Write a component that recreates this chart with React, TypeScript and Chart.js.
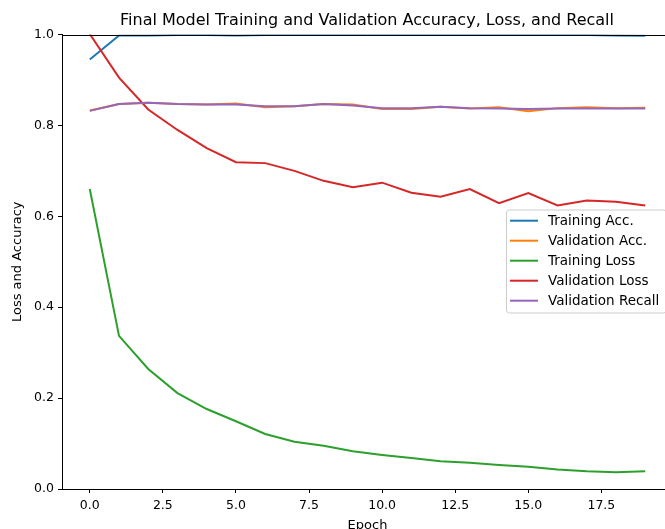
import React, { useEffect, useRef } from "react";
import { Chart, registerables } from "chart.js";

Chart.register(...registerables);

const titleText = "Final Model Training and Validation Accuracy, Loss, and Recall";
const xAxisLabel = "Epoch";
const yAxisLabel = "Loss and Accuracy";

const epochs = [0, 1, 2, 3, 4, 5, 6, 7, 8, 9, 10, 11, 12, 13, 14, 15, 16, 17, 18, 19];
const trainAcc = [0.945, 0.998, 0.998, 0.999, 0.999, 0.998, 0.999, 1.0, 0.999, 0.999, 0.999, 0.999, 1.0, 0.999, 1.0, 0.999, 0.999, 0.999, 0.998, 0.997];
const valAcc = [0.833, 0.847, 0.85, 0.847, 0.846, 0.848, 0.84, 0.842, 0.847, 0.846, 0.836, 0.836, 0.841, 0.837, 0.84, 0.831, 0.838, 0.84, 0.838, 0.839];
const trainLoss = [0.66, 0.337, 0.264, 0.211, 0.176, 0.149, 0.121, 0.104, 0.095, 0.083, 0.075, 0.068, 0.061, 0.058, 0.053, 0.049, 0.043, 0.039, 0.037, 0.039];
const valLoss = [1.001, 0.905, 0.835, 0.79, 0.75, 0.719, 0.717, 0.7, 0.678, 0.664, 0.674, 0.652, 0.643, 0.66, 0.629, 0.651, 0.624, 0.635, 0.632, 0.624];
const valRecall = [0.832, 0.847, 0.85, 0.847, 0.846, 0.846, 0.842, 0.842, 0.847, 0.844, 0.838, 0.838, 0.841, 0.838, 0.837, 0.836, 0.837, 0.837, 0.837, 0.837];

const seriesNames = ["Training Acc.", "Validation Acc.", "Training Loss", "Validation Loss", "Validation Recall"];
const seriesColors = ["#1f77b4", "#ff7f0e", "#2ca02c", "#d62728", "#9467bd"];
const seriesValues = [trainAcc, valAcc, trainLoss, valLoss, valRecall];

const xTickValues = [0, 2.5, 5, 7.5, 10, 12.5, 15, 17.5];
const yTickValues = [0, 0.2, 0.4, 0.6, 0.8, 1.0];

const FONT = "'DejaVu Sans', sans-serif";

const decorPlugin = {
  id: "decor",
  afterDraw(chart: any) {
    const ctx = chart.ctx;
    const a = chart.chartArea;
    ctx.save();
    // top spine
    ctx.strokeStyle = "#000";
    ctx.lineWidth = 1;
    ctx.beginPath();
    ctx.moveTo(a.left, Math.round(a.top) + 0.5);
    ctx.lineTo(a.right, Math.round(a.top) + 0.5);
    ctx.stroke();

    // title
    ctx.fillStyle = "#000";
    ctx.font = `16px ${FONT}`;
    ctx.textAlign = "center";
    ctx.textBaseline = "alphabetic";
    ctx.fillText(titleText, (a.left + a.right) / 2 - 0.5, 25);

    // x label
    ctx.font = `13px ${FONT}`;
    ctx.fillText(xAxisLabel, (a.left + a.right) / 2, 529);

    // y label
    ctx.save();
    ctx.translate(18, (a.top + a.bottom) / 2);
    ctx.rotate(-Math.PI / 2);
    ctx.textBaseline = "middle";
    ctx.fillText(yAxisLabel, 0, 0);
    ctx.restore();

    // legend
    const lx = 506.5, ly = 210, lw = 160, lh = 103, r = 3;
    ctx.beginPath();
    ctx.moveTo(lx + r, ly);
    ctx.lineTo(lx + lw - r, ly);
    ctx.arcTo(lx + lw, ly, lx + lw, ly + r, r);
    ctx.lineTo(lx + lw, ly + lh - r);
    ctx.arcTo(lx + lw, ly + lh, lx + lw - r, ly + lh, r);
    ctx.lineTo(lx + r, ly + lh);
    ctx.arcTo(lx, ly + lh, lx, ly + lh - r, r);
    ctx.lineTo(lx, ly + r);
    ctx.arcTo(lx, ly, lx + r, ly, r);
    ctx.closePath();
    ctx.fillStyle = "rgba(255,255,255,0.8)";
    ctx.fill();
    ctx.strokeStyle = "#cccccc";
    ctx.lineWidth = 1;
    ctx.stroke();

    ctx.font = `13.5px ${FONT}`;
    ctx.textAlign = "left";
    ctx.textBaseline = "middle";
    chart.data.datasets.forEach((ds: any, i: number) => {
      const cy = 220.7 + i * 20;
      ctx.strokeStyle = ds.borderColor;
      ctx.lineWidth = 2;
      ctx.beginPath();
      ctx.moveTo(510, cy);
      ctx.lineTo(538, cy);
      ctx.stroke();
      ctx.fillStyle = "#000";
      ctx.fillText(ds.label, 548, cy + 0.5);
    });
    ctx.restore();
  },
};

export default function App() {
  const ref = useRef<HTMLCanvasElement>(null);
  useEffect(() => {
    if (!ref.current) return;
    const datasets = seriesNames.map((name, i) => ({
      label: name,
      data: epochs.map((e, j) => ({ x: e, y: seriesValues[i][j] })),
      borderColor: seriesColors[i],
      backgroundColor: seriesColors[i],
      borderWidth: 2,
      pointRadius: 0,
      tension: 0,
      fill: false,
      order: seriesNames.length - 1 - i,
    }));
    const chart = new Chart(ref.current, {
      type: "line",
      data: { datasets },
      plugins: [decorPlugin],
      options: {
        responsive: false,
        animation: false,
        devicePixelRatio: 1,
        layout: { padding: { left: 0, top: 34.5, right: 27, bottom: 0 } },
        plugins: { legend: { display: false }, title: { display: false }, tooltip: { enabled: false } },
        scales: {
          x: {
            type: "linear",
            min: -0.95,
            max: 19.95,
            afterBuildTicks: (s: any) => {
              s.ticks = xTickValues.map((v) => ({ value: v }));
            },
            afterFit: (s: any) => {
              s.height = 40;
            },
            grid: { display: true, drawOnChartArea: false, drawTicks: true, tickLength: 4, tickColor: "#000", color: "#000" },
            border: { display: true, color: "#000", width: 1 },
            ticks: {
              color: "#000",
              padding: 5,
              maxRotation: 0,
              autoSkip: false,
              font: { family: FONT, size: 12.5 },
              callback: (v: any) => Number(v).toFixed(1),
            },
          },
          y: {
            type: "linear",
            min: 0,
            max: 1,
            afterBuildTicks: (s: any) => {
              s.ticks = yTickValues.map((v) => ({ value: v }));
            },
            afterFit: (s: any) => {
              s.width = 62;
            },
            grid: { display: true, drawOnChartArea: false, drawTicks: true, tickLength: 4, tickColor: "#000", color: "#000" },
            border: { display: true, color: "#000", width: 1 },
            ticks: {
              color: "#000",
              padding: 4,
              autoSkip: false,
              font: { family: FONT, size: 12.5 },
              callback: (v: any) => Number(v).toFixed(1),
            },
          },
        },
      },
    });
    return () => chart.destroy();
  }, []);
  return (
    <div style={{ position: "fixed", left: 0, top: 0, width: 665, height: 529, overflow: "hidden", background: "#fff" }}>
      <canvas ref={ref} width={700} height={529} style={{ width: 700, height: 529, display: "block" }} />
    </div>
  );
}
